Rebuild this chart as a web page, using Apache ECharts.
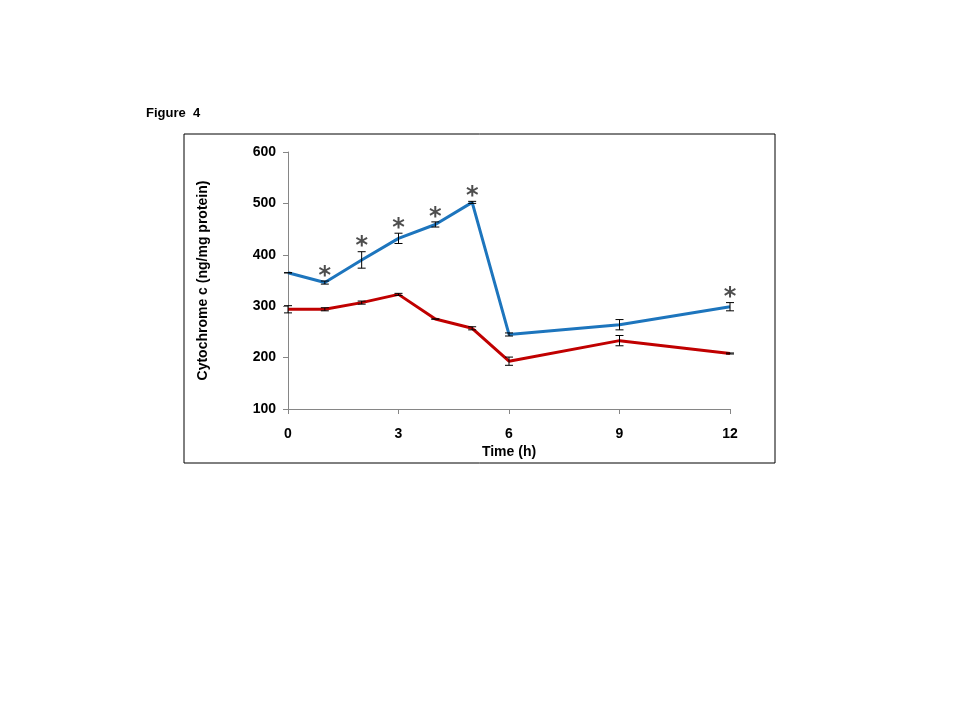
<!DOCTYPE html>
<html>
<head>
<meta charset="utf-8">
<script src="https://cdn.jsdelivr.net/npm/echarts@6/dist/echarts.min.js"></script>
<style>
  html, body { margin: 0; padding: 0; background: #fff; }
  #main { width: 960px; height: 720px; }
</style>
</head>
<body>
<div id="main"></div>
<script>
// time points (h)
var hours = [0, 1, 2, 3, 4, 5, 6, 9, 12];
// upper (blue) series and its error
var blueMean = [365, 346, 390, 432, 459, 502, 245, 264, 299];
var blueErr = [0, 3, 16, 10, 5, 2, 3, 10, 8];
// lower (red) series and its error
var redMean = [294, 294, 307, 323, 275, 257, 193, 233, 208];
var redErr = [7, 3, 3, 2, 0, 3, 8, 10, 1];
// significance marks on the blue series
var starred = [false, true, true, true, true, true, false, false, true];

var xTicks = [0, 3, 6, 9, 12];

function pairs(xs, ys) {
  return xs.map(function (x, i) { return [x, ys[i]]; });
}

function errData(xs, m, e) {
  return xs.map(function (x, i) { return [x, m[i] - e[i], m[i] + e[i]]; });
}

function errorBarItem(params, api) {
  var lo = api.coord([api.value(0), api.value(1)]);
  var hi = api.coord([api.value(0), api.value(2)]);
  var w = 4;
  var st = { stroke: '#000', lineWidth: 1 };
  return {
    type: 'group',
    children: [
      { type: 'line', shape: { x1: hi[0], y1: hi[1], x2: lo[0], y2: lo[1] }, style: st },
      { type: 'line', shape: { x1: hi[0] - w, y1: hi[1], x2: hi[0] + w, y2: hi[1] }, style: st },
      { type: 'line', shape: { x1: lo[0] - w, y1: lo[1], x2: lo[0] + w, y2: lo[1] }, style: st }
    ]
  };
}

var starData = [];
hours.forEach(function (h, i) {
  if (starred[i]) starData.push([h, blueMean[i] + blueErr[i]]);
});

var chart = echarts.init(document.getElementById('main'));

var font = '"Liberation Sans", Arial, sans-serif';

var option = {
  animation: false,
  backgroundColor: '#fff',
  textStyle: { fontFamily: font },
  graphic: [
    {
      type: 'rect',
      shape: { x: 184, y: 134, width: 591, height: 329 },
      style: { fill: 'none', stroke: '#000', lineWidth: 1 },
      z: 0
    },
    {
      type: 'text',
      left: 146,
      top: 107,
      style: { text: 'Figure  4', fontFamily: font, fontWeight: 'bold', fontSize: 13, fill: '#000' }
    }
  ],
  grid: { left: 288, top: 152, width: 442, height: 257 },
  xAxis: {
    type: 'value',
    min: 0,
    max: 12,
    interval: 3,
    name: 'Time (h)',
    nameLocation: 'middle',
    nameGap: 36,
    nameTextStyle: { fontWeight: 'bold', fontSize: 14, color: '#000', fontFamily: font },
    axisLine: { lineStyle: { color: '#868686' } },
    axisTick: { show: true, length: 5, lineStyle: { color: '#868686' } },
    axisLabel: {
      margin: 18, fontWeight: 'bold', fontSize: 14, color: '#000',
      customValues: xTicks
    },
    splitLine: { show: false }
  },
  yAxis: {
    type: 'value',
    min: 100,
    max: 600,
    interval: 100,
    name: 'Cytochrome c (ng/mg protein)',
    nameLocation: 'middle',
    nameGap: 78,
    nameTextStyle: { fontWeight: 'bold', fontSize: 14, color: '#000', fontFamily: font },
    axisLine: { show: true, lineStyle: { color: '#868686' } },
    axisTick: { show: true, length: 5, lineStyle: { color: '#868686' } },
    axisLabel: { margin: 12, fontWeight: 'bold', fontSize: 14, color: '#000' },
    splitLine: { show: false }
  },
  series: [
    {
      name: 'blue',
      type: 'line',
      data: pairs(hours, blueMean),
      symbol: 'none',
      lineStyle: { color: '#1D75BD', width: 3 },
      z: 3
    },
    {
      name: 'red',
      type: 'line',
      data: pairs(hours, redMean),
      symbol: 'none',
      lineStyle: { color: '#C00000', width: 3 },
      z: 3
    },
    {
      type: 'custom',
      renderItem: errorBarItem,
      data: errData(hours, blueMean, blueErr),
      encode: { x: 0, y: [1, 2] },
      z: 4
    },
    {
      type: 'custom',
      renderItem: errorBarItem,
      data: errData(hours, redMean, redErr),
      encode: { x: 0, y: [1, 2] },
      z: 4
    },
    {
      type: 'scatter',
      data: starData,
      symbol: 'circle',
      symbolSize: 1,
      itemStyle: { color: 'rgba(0,0,0,0)' },
      label: {
        show: true,
        position: 'top',
        distance: -8,
        formatter: '*',
        fontSize: 24,
        fontWeight: 'bold',
        color: '#222',
        fontFamily: '"DejaVu Sans", sans-serif'
      },
      z: 5
    }
  ]
};

chart.setOption(option);
window.addEventListener('resize', chart.resize);
</script>
</body>
</html>
